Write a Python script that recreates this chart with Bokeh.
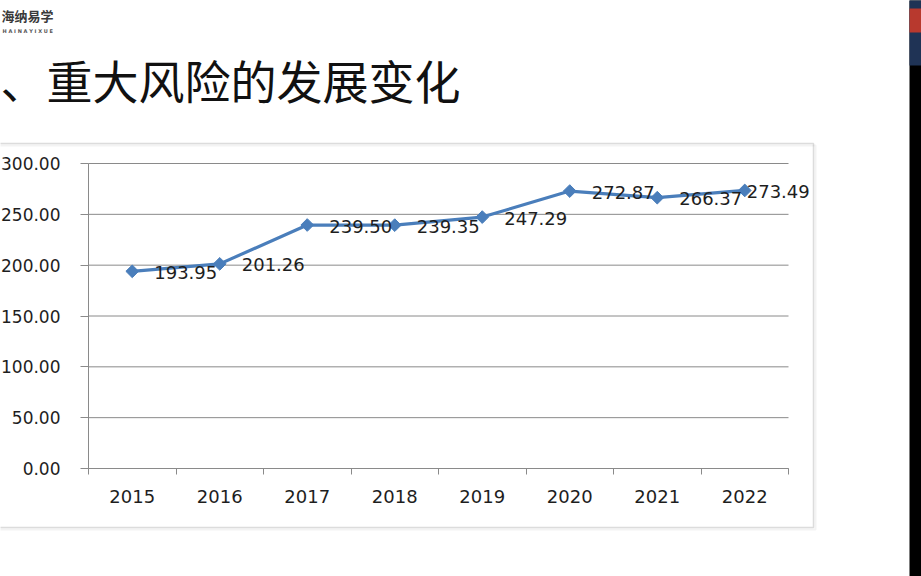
from bokeh.plotting import figure
from bokeh.models import (Range1d, LinearAxis, FixedTicker, BoxAnnotation,
                          Label, LabelSet, ColumnDataSource, PrintfTickFormatter)
from bokeh.core.properties import value
from bokeh.embed import file_html
from bokeh.resources import INLINE
import math

# ---- data ----
years = ["2015", "2016", "2017", "2018", "2019", "2020", "2021", "2022"]
values = [193.95, 201.26, 239.50, 239.35, 247.29, 272.87, 266.37, 273.49]
y_ticks = [0, 50, 100, 150, 200, 250, 300]
title_text = "、重大风险的发展变化"
logo_cn = "海纳易学"
logo_en = "H A I N A Y I X U E"

# ---- layout (canvas pixels) ----
W, H = 921, 576
PL, PR = 88, 788          # plot area left / right
PB, PT = 108, 413         # plot area bottom / top (measured from canvas bottom)
Y_MAX = 300.0
n = len(years)
px_per_cat = (PR - PL) / n
px_per_unit = (PT - PB) / Y_MAX

BLUE = "#4a7ebb"
GRID = "#8a8a8a"
TXT = "#1e1e1e"
NUMFONT = "DejaVu Sans"
FS = "18px"

x_range = Range1d(-PL / px_per_cat, (W - PL) / px_per_cat)
y_range = Range1d(-PB / px_per_unit, Y_MAX + (H - PT) / px_per_unit)

p = figure(width=W, height=H, x_range=x_range, y_range=y_range,
           output_backend="svg", toolbar_location=None,
           x_axis_location=None, y_axis_location=None,
           min_border=0, min_border_left=0, min_border_right=0,
           min_border_top=0, min_border_bottom=0)
p.outline_line_color = None
p.background_fill_color = "#ffffff"
p.border_fill_color = "#ffffff"
p.grid.visible = False

# chart box with a faint shadow (screen units = canvas pixels from bottom-left)
def sbox(**kw):
    return BoxAnnotation(left_units="screen", right_units="screen",
                         bottom_units="screen", top_units="screen", **kw)

p.add_layout(sbox(left=-50, right=815, bottom=47, top=431, fill_alpha=0,
                  line_color="#d6d6d6", line_width=2, level="underlay"))
p.add_layout(sbox(left=-50, right=813, bottom=49, top=433, fill_alpha=0,
                  line_color="#8c8c8c", line_width=1.5, level="underlay"))

# horizontal gridlines across the category span
p.segment(x0=[0] * len(y_ticks), x1=[n] * len(y_ticks), y0=y_ticks, y1=y_ticks,
          line_color=GRID, line_width=1)

# y axis
yax = LinearAxis(ticker=FixedTicker(ticks=y_ticks),
                 formatter=PrintfTickFormatter(format="%.2f"),
                 fixed_location=0, bounds=(0, Y_MAX))
yax.axis_line_color = GRID
yax.major_tick_line_color = GRID
yax.major_tick_out = 8
yax.major_tick_in = 0
yax.minor_tick_line_color = None
yax.major_label_standoff = 20
yax.major_label_text_font = NUMFONT
yax.major_label_text_font_size = "17px"
yax.major_label_text_color = TXT
p.add_layout(yax, "left")

# x axis: category labels at the category centres
centers = [i + 0.5 for i in range(n)]
xax = LinearAxis(ticker=FixedTicker(ticks=centers), fixed_location=0, bounds=(0, n),
                 major_label_overrides={c: y for c, y in zip(centers, years)})
xax.axis_line_color = GRID
xax.major_tick_line_color = None
xax.major_tick_out = 0
xax.major_tick_in = 0
xax.minor_tick_line_color = None
xax.major_label_standoff = 21
xax.major_label_text_font = NUMFONT
xax.major_label_text_font_size = FS
xax.major_label_text_color = TXT
p.add_layout(xax, "below")

# tick marks on the category boundaries
edges = list(range(n + 1))
eax = LinearAxis(ticker=FixedTicker(ticks=edges), fixed_location=0, bounds=(0, n),
                 major_label_overrides={e: "" for e in edges})
eax.axis_line_color = None
eax.major_tick_line_color = GRID
eax.major_tick_out = 6
eax.major_tick_in = 0
eax.minor_tick_line_color = None
eax.major_label_text_font_size = "1px"
p.add_layout(eax, "below")

# series
src = ColumnDataSource(dict(x=centers, y=values, lab=["%.2f" % v for v in values]))
src.data["dx"] = [22] * (n - 1) + [2]
p.line("x", "y", source=src, line_color=BLUE, line_width=3.2)
p.scatter("x", "y", source=src, marker="square", angle=math.pi / 4, size=9,
          fill_color=BLUE, line_color=BLUE)
p.add_layout(LabelSet(x="x", y="y", text="lab", source=src, x_offset="dx", y_offset=-1,
                      text_font=value(NUMFONT), text_font_size=value(FS),
                      text_color=TXT, text_align="left", text_baseline="middle"))

# slide decorations
p.add_layout(Label(x=0, y=498, x_units="screen", y_units="screen", text=title_text,
                   text_font="Noto Sans CJK SC", text_font_size="46px", text_color="#111111",
                   text_align="left", text_baseline="middle"))
p.add_layout(Label(x=1, y=561, x_units="screen", y_units="screen", text=logo_cn,
                   text_font="Noto Sans CJK SC", text_font_size="13px", text_font_style="bold",
                   text_color="#3a3a3a", text_align="left", text_baseline="middle"))
p.add_layout(Label(x=2, y=546, x_units="screen", y_units="screen", text=logo_en,
                   text_font="DejaVu Sans", text_font_size="5px", text_font_style="bold",
                   text_color="#555555", text_align="left", text_baseline="middle"))

# right-hand dark strip with thumbnail
p.add_layout(sbox(left=909, right=960, bottom=-50, top=640,
                  fill_color="#000000", fill_alpha=1, line_color=None))
p.add_layout(sbox(left=909, right=960, bottom=511, top=640,
                  fill_color="#1f3355", fill_alpha=1, line_color=None))
p.add_layout(sbox(left=909, right=960, bottom=544, top=568,
                  fill_color="#b8392e", fill_alpha=1, line_color=None))

open("out.html", "w").write(file_html(p, INLINE))
